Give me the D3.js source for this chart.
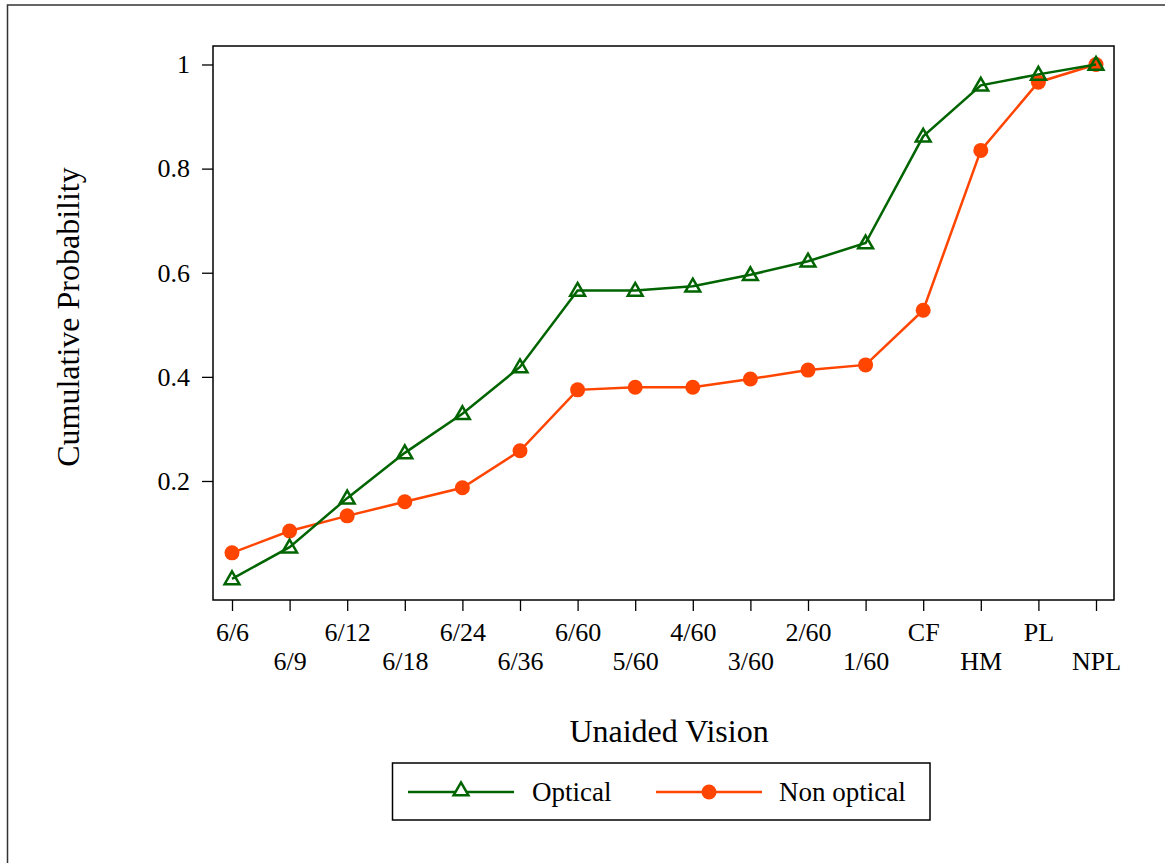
<!DOCTYPE html>
<html>
<head>
<meta charset="utf-8">
<script src="https://cdn.jsdelivr.net/npm/d3@7"></script>
<style>
  body { margin: 0; background: #fff; }
  svg text { font-family: "Liberation Serif", "DejaVu Serif", serif; fill: #000; }
</style>
</head>
<body>
<div id="chart"></div>
<script>
// categories of unaided vision
const categories = ["6/6", "6/9", "6/12", "6/18", "6/24", "6/36", "6/60", "5/60", "4/60", "3/60", "2/60", "1/60", "CF", "HM", "PL", "NPL"];
// cumulative probability
const optical    = [0.012, 0.073, 0.167, 0.254, 0.329, 0.419, 0.566, 0.566, 0.574, 0.596, 0.622, 0.657, 0.862, 0.960, 0.981, 1.0];
const nonOptical = [0.062, 0.104, 0.133, 0.160, 0.187, 0.258, 0.375, 0.380, 0.380, 0.396, 0.413, 0.423, 0.528, 0.835, 0.966, 1.0];
const yTicks = [0.2, 0.4, 0.6, 0.8, 1];

const width = 1165, height = 863;
const green = "#006400", orange = "#ff4500";

const svg = d3.select("#chart").append("svg")
  .attr("width", width)
  .attr("height", height);

// outer frame of the figure
svg.append("rect")
  .attr("x", 7.5).attr("y", 5)
  .attr("width", 1200).attr("height", 900)
  .attr("fill", "none").attr("stroke", "#333").attr("stroke-width", 1.5);

const plot = { left: 213, right: 1114, top: 46, bottom: 600 };

const x = d3.scalePoint()
  .domain(categories)
  .range([232, 1096]);

const y = d3.scaleLinear()
  .domain([-0.0286, 1.0355])
  .range([plot.bottom, plot.top]);

// plot frame
svg.append("rect")
  .attr("x", plot.left).attr("y", plot.top)
  .attr("width", plot.right - plot.left)
  .attr("height", plot.bottom - plot.top)
  .attr("fill", "none").attr("stroke", "#000").attr("stroke-width", 1.5);

// y axis
const yAxis = svg.append("g")
  .attr("transform", `translate(${plot.left},0)`)
  .call(d3.axisLeft(y).tickValues(yTicks).tickSize(11).tickPadding(12).tickFormat(d3.format("~g")));
yAxis.select(".domain").remove();
yAxis.selectAll("line").attr("stroke", "#000").attr("stroke-width", 1.3);
yAxis.selectAll("text").attr("font-size", 26).attr("font-family", "Liberation Serif");

// x axis, labels staggered on two rows
const xAxis = svg.append("g")
  .attr("transform", `translate(0,${plot.bottom})`)
  .call(d3.axisBottom(x).tickSize(11).tickPadding(0));
xAxis.select(".domain").remove();
xAxis.selectAll("line").attr("stroke", "#000").attr("stroke-width", 1.3);
xAxis.selectAll("text")
  .attr("font-size", 26)
  .attr("font-family", "Liberation Serif")
  .attr("dy", null)
  .attr("y", (d, i) => i % 2 === 0 ? 41 : 70);

// axis titles
svg.append("text")
  .attr("x", 669).attr("y", 742)
  .attr("text-anchor", "middle")
  .attr("font-size", 32)
  .text("Unaided Vision");

svg.append("text")
  .attr("transform", "translate(79,317) rotate(-90)")
  .attr("text-anchor", "middle")
  .attr("font-size", 32)
  .text("Cumulative Probability");

const line = d3.line()
  .x((d, i) => x(categories[i]))
  .y(d => y(d));

const tri = d3.symbol().type(d3.symbolTriangle).size(95);

// non optical series
svg.append("path")
  .datum(nonOptical)
  .attr("d", line)
  .attr("fill", "none").attr("stroke", orange).attr("stroke-width", 2.5);
svg.append("g").selectAll("circle")
  .data(nonOptical)
  .join("circle")
  .attr("cx", (d, i) => x(categories[i]))
  .attr("cy", d => y(d))
  .attr("r", 7.5)
  .attr("fill", orange);

// optical series
svg.append("path")
  .datum(optical)
  .attr("d", line)
  .attr("fill", "none").attr("stroke", green).attr("stroke-width", 2.5);
svg.append("g").selectAll("path")
  .data(optical)
  .join("path")
  .attr("d", tri)
  .attr("transform", (d, i) => `translate(${x(categories[i])},${y(d) + 1})`)
  .attr("fill", "none").attr("stroke", green).attr("stroke-width", 2.5);

// legend
const lg = svg.append("g");
lg.append("rect")
  .attr("x", 392.5).attr("y", 763)
  .attr("width", 537.5).attr("height", 57)
  .attr("fill", "#fff").attr("stroke", "#000").attr("stroke-width", 1.5);

const legendItems = [
  { name: "Optical", color: green, x0: 408, tx: 532, marker: "tri" },
  { name: "Non optical", color: orange, x0: 656, tx: 779, marker: "dot" }
];
legendItems.forEach(it => {
  lg.append("line")
    .attr("x1", it.x0).attr("x2", it.x0 + 106)
    .attr("y1", 792).attr("y2", 792)
    .attr("stroke", it.color).attr("stroke-width", 2.5);
  if (it.marker === "tri") {
    lg.append("path")
      .attr("d", tri)
      .attr("transform", `translate(${it.x0 + 53},${791})`)
      .attr("fill", "#fff").attr("stroke", it.color).attr("stroke-width", 2.5);
  } else {
    lg.append("circle")
      .attr("cx", it.x0 + 53).attr("cy", 792).attr("r", 7.5)
      .attr("fill", it.color);
  }
  lg.append("text")
    .attr("x", it.tx).attr("y", 801)
    .attr("font-size", 27)
    .text(it.name);
});
</script>
</body>
</html>
